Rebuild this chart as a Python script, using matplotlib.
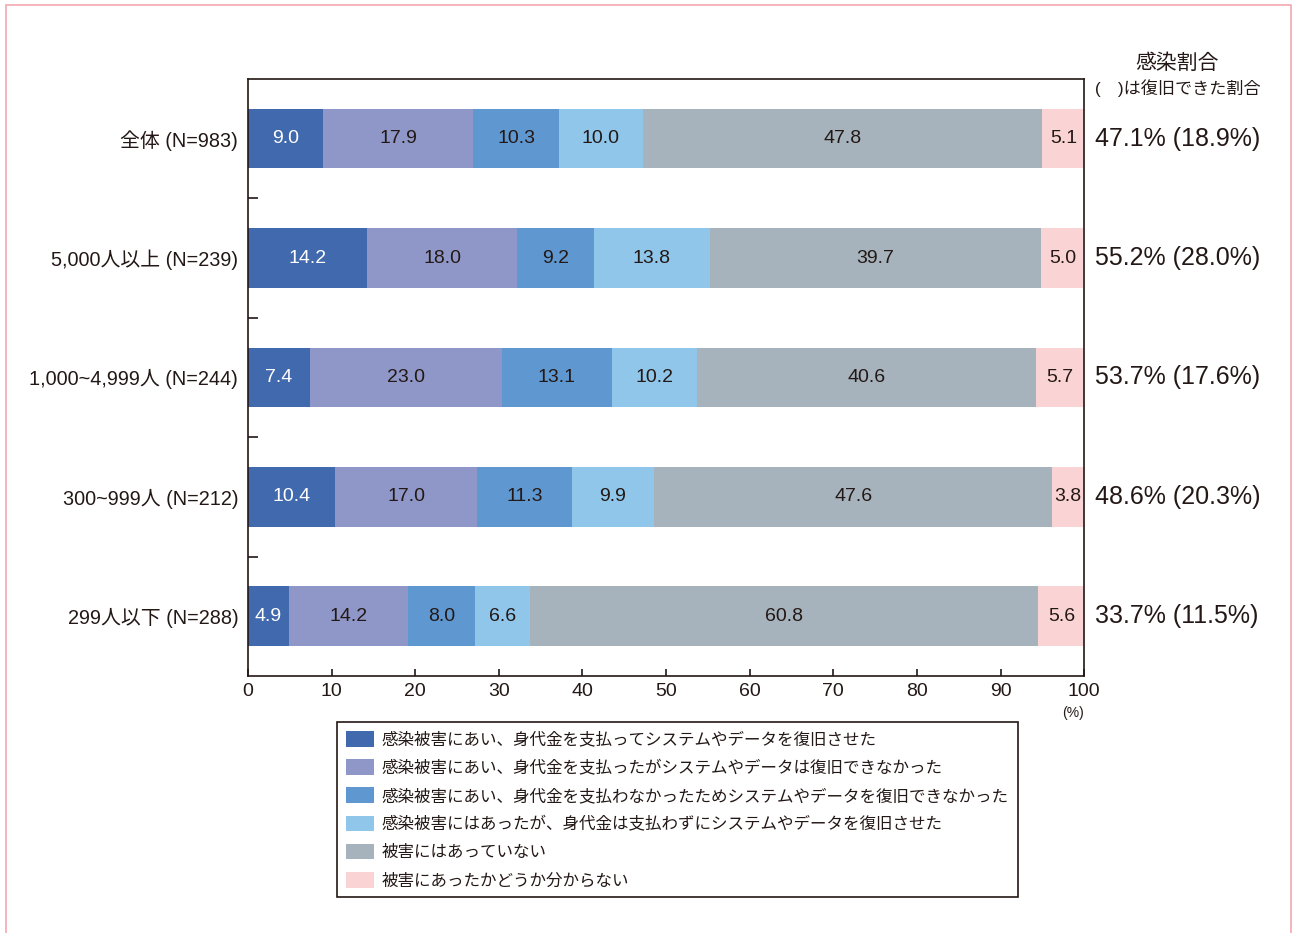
import numpy as np
import matplotlib
matplotlib.use("Agg")
import matplotlib.pyplot as plt
from matplotlib.patches import Rectangle

plt.rcParams['font.family'] = ['Liberation Sans', 'Noto Sans CJK JP', 'DejaVu Sans']

# データ
categories = ['全体 (N=983)', '5,000人以上 (N=239)', '1,000~4,999人 (N=244)',
              '300~999人 (N=212)', '299人以下 (N=288)']
paid_restored = [9.0, 14.2, 7.4, 10.4, 4.9]
paid_not_restored = [17.9, 18.0, 23.0, 17.0, 14.2]
unpaid_not_restored = [10.3, 9.2, 13.1, 11.3, 8.0]
unpaid_restored = [10.0, 13.8, 10.2, 9.9, 6.6]
not_infected = [47.8, 39.7, 40.6, 47.6, 60.8]
unknown = [5.1, 5.0, 5.7, 3.8, 5.6]
infected_rate = ['47.1% (18.9%)', '55.2% (28.0%)', '53.7% (17.6%)',
                 '48.6% (20.3%)', '33.7% (11.5%)']

series_labels = [
    '感染被害にあい、身代金を支払ってシステムやデータを復旧させた',
    '感染被害にあい、身代金を支払ったがシステムやデータは復旧できなかった',
    '感染被害にあい、身代金を支払わなかったためシステムやデータを復旧できなかった',
    '感染被害にはあったが、身代金は支払わずにシステムやデータを復旧させた',
    '被害にはあっていない',
    '被害にあったかどうか分からない',
]
series = [paid_restored, paid_not_restored, unpaid_not_restored,
          unpaid_restored, not_infected, unknown]
colors = ['#4169ad', '#8e97c7', '#5f98d0', '#8fc6ea', '#a6b3bd', '#fad4d4']
text_colors = ['white', '#231815', '#231815', '#231815', '#231815', '#231815']
dark = '#231815'

fig = plt.figure(figsize=(12.92, 9.33), dpi=100)
ax = fig.add_axes([0.1920, 0.2755, 0.6471, 0.6399])

y = np.arange(len(categories))
left = np.zeros(len(categories))
for vals, col, tc, lab in zip(series, colors, text_colors, series_labels):
    vals = np.array(vals)
    ax.barh(y, vals, left=left, height=0.5, color=col, label=lab, edgecolor='none')
    for yi, (l, v) in enumerate(zip(left, vals)):
        ax.text(l + v / 2, yi, f'{v:.1f}', ha='center', va='center',
                fontsize=14, color=tc)
    left += vals

ax.set_xlim(0, 100)
ax.set_ylim(len(categories) - 0.5, -0.5)
ax.set_xticks(range(0, 101, 10))
ax.tick_params(axis='x', direction='in', length=5, width=1.2, labelsize=14,
               colors=dark, pad=5)
ax.set_yticks(y)
ax.set_yticklabels(categories, fontsize=14.3, color=dark)
ax.tick_params(axis='y', which='major', length=0, pad=7)
ax.set_yticks(np.arange(0.5, len(categories) - 0.5, 1), minor=True)
ax.tick_params(axis='y', which='minor', direction='in', length=7, width=1.2, color=dark)
for s in ax.spines.values():
    s.set_linewidth(1.2)
    s.set_color(dark)

# 右側の感染割合
for yi, t in enumerate(infected_rate):
    ax.text(1.013, yi, t, transform=ax.get_yaxis_transform(), ha='left', va='center',
            fontsize=18, color=dark)
fig.text(0.911, 0.932, '感染割合', ha='center', va='center', fontsize=15, color=dark)
fig.text(0.912, 0.906, '(\u3000)は復旧できた割合', ha='center', va='center',
         fontsize=12.3, color=dark)
fig.text(0.839, 0.236, '(%)', ha='right', va='center', fontsize=10, color=dark)

leg = ax.legend(loc='upper left', bbox_to_anchor=(0.2608, 0.2261),
                bbox_transform=fig.transFigure, borderaxespad=0, fontsize=11.9,
                frameon=True, fancybox=False, edgecolor=dark, framealpha=1,
                handlelength=1.7, handleheight=1.1, labelspacing=0.7,
                handletextpad=0.45, borderpad=0.55)
leg.get_frame().set_linewidth(1.2)
for t in leg.get_texts():
    t.set_color(dark)

# ピンクの枠
fig.patches.append(Rectangle((6 / 1292, -0.05), 1285 / 1292, 1.05 - 5 / 933,
                             transform=fig.transFigure, fill=False,
                             edgecolor='#f2a7b0', linewidth=1.2, clip_on=False))

fig.savefig('out.png', dpi=100)
